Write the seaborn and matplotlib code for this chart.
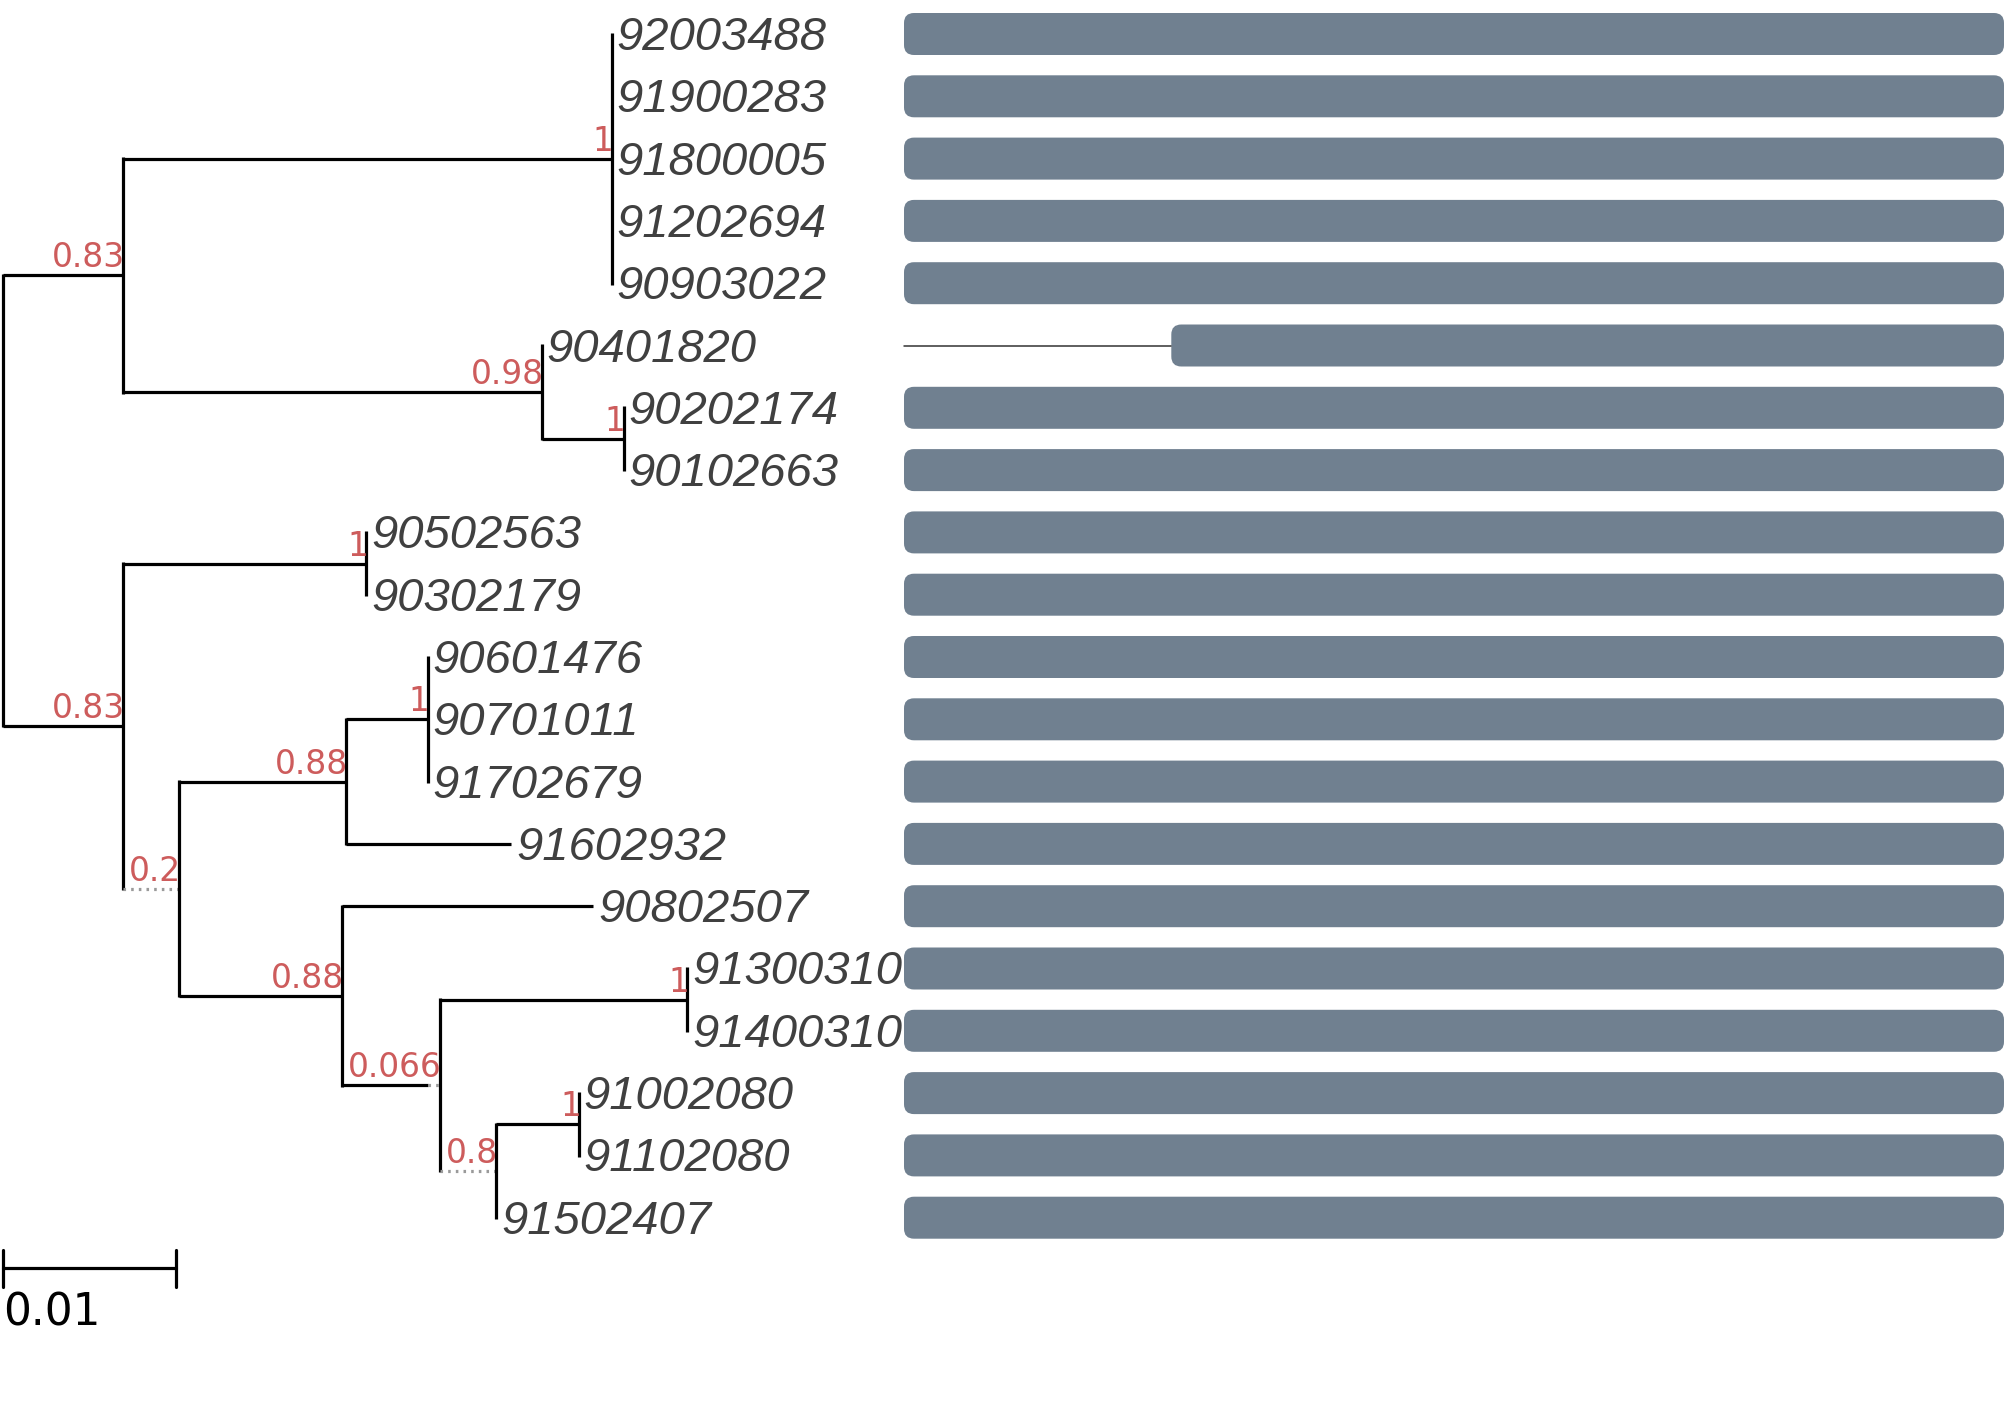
import matplotlib
matplotlib.use("Agg")
import matplotlib.pyplot as plt
from matplotlib.patches import FancyBboxPatch
import seaborn as sns

# ---------------- data ----------------
# tree nodes in preorder: name, parent, branch length, support (None for leaves/root)
node_name = ["root", "A", "A1", "92003488", "91900283", "91800005", "91202694", "90903022",
             "A2", "90401820", "A2c", "90202174", "90102663",
             "B", "B1", "90502563", "90302179",
             "B2", "C", "C1", "90601476", "90701011", "91702679", "91602932",
             "D", "90802507", "E", "E1", "91300310", "91400310",
             "F", "F1", "91002080", "91102080", "91502407"]
node_parent = [None, "root", "A", "A1", "A1", "A1", "A1", "A1",
               "A", "A2", "A2", "A2c", "A2c",
               "root", "B", "B1", "B1",
               "B", "B2", "C", "C1", "C1", "C1", "C",
               "B2", "D", "D", "E", "E1", "E1",
               "E", "F", "F1", "F1", "F"]
branch_length = [0.0, 0.00694, 0.02824, 0, 0, 0, 0, 0,
                 0.02419, 0, 0.00474, 0, 0,
                 0.00694, 0.01405, 0, 0,
                 0.0, 0.00965, 0.00471, 0, 0, 0, 0.00954,
                 0.00942, 0.01451, 0.00497, 0.01428, 0, 0,
                 0.0, 0.00477, 0, 0, 0]
support = [None, 0.83, 1, None, None, None, None, None,
           0.98, None, 1, None, None,
           0.83, 1, None, None,
           0.2, 0.88, 1, None, None, None, None,
           0.88, None, 0.066, 1, None, None,
           0.8, 1, None, None, None]

# aligned bars (sequence coverage, 0..1000) per leaf, in leaf order
leaf_order = ["92003488", "91900283", "91800005", "91202694", "90903022", "90401820",
              "90202174", "90102663", "90502563", "90302179", "90601476", "90701011",
              "91702679", "91602932", "90802507", "91300310", "91400310", "91002080",
              "91102080", "91502407"]
bar_start = [0, 0, 0, 0, 0, 243, 0, 0, 0, 0, 0, 0, 0, 0, 0, 0, 0, 0, 0, 0]
bar_end = [1000] * 20
seq_length = 1000
scale_value = 0.01

# ---------------- figure ----------------
sns.set_theme(style="white")
plt.rcParams["font.family"] = ["DejaVu Sans"]
W, H, DPI = 2007, 1424, 100
fig = plt.figure(figsize=(W / DPI, H / DPI), dpi=DPI)
ax = fig.add_axes([0, 0, 1, 1])
ax.set_xlim(0, W)
ax.set_ylim(H, 0)
ax.axis("off")
renderer = fig.canvas.get_renderer()

PX_PER_UNIT = 17300.0
X0 = 3.0
ROW0, ROW_STEP = 34.0, 62.3
LW = 2.3
SUP_FS = 23.7
SUP_COLOR = "#cd5c5c"

children = {n: [] for n in node_name}
for n, p in zip(node_name, node_parent):
    if p is not None:
        children[p].append(n)
bl = dict(zip(node_name, branch_length))
sup = dict(zip(node_name, support))

def fmt(v):
    return ("%g" % v)

# text widths of support labels
sup_width = {}
for n in node_name:
    if sup[n] is not None:
        t = ax.text(0, 0, fmt(sup[n]), fontsize=SUP_FS, family="DejaVu Sans")
        sup_width[n] = t.get_window_extent(renderer).width
        t.remove()

# x positions (with dotted extension when the support label is wider than the branch)
xpos, solid_end = {}, {}
for n, p in zip(node_name, node_parent):
    if p is None:
        xpos[n] = X0
        solid_end[n] = X0
        continue
    L = bl[n] * PX_PER_UNIT
    need = sup_width.get(n, 0) + 4 if children[n] else 0
    solid_end[n] = xpos[p] + L
    xpos[n] = xpos[p] + max(L, need)

# y positions
ypos = {}
for i, leaf in enumerate(leaf_order):
    ypos[leaf] = ROW0 + ROW_STEP * i

def get_y(n):
    if n in ypos:
        return ypos[n]
    ys = [get_y(c) for c in children[n]]
    ypos[n] = (ys[0] + ys[-1]) / 2
    return ypos[n]

get_y("root")

# draw branches
for n, p in zip(node_name, node_parent):
    y = ypos[n]
    if p is not None:
        ax.plot([xpos[p], solid_end[n]], [y, y], color="black", lw=LW,
                solid_capstyle="butt")
        if xpos[n] - solid_end[n] > 0.5:
            ax.plot([solid_end[n], xpos[n]], [y, y], color="#9a9a9a", lw=LW,
                    linestyle=(0, (0.8, 1.6)), dash_capstyle="butt")
    if children[n]:
        ys = [ypos[c] for c in children[n]]
        ax.plot([xpos[n], xpos[n]], [min(ys) - LW * 0.6, max(ys) + LW * 0.6],
                color="black", lw=LW, solid_capstyle="butt")
        if sup[n] is not None:
            ax.text(xpos[n] + 2, y - 1, fmt(sup[n]), fontsize=SUP_FS,
                    color=SUP_COLOR, ha="right", va="bottom", family="DejaVu Sans")
    else:
        ax.text(xpos[n] + 5, y + 4, n, fontsize=34, style="italic", color="#404040",
                ha="left", va="center", family=["Liberation Sans", "DejaVu Sans"])

# aligned bars
BX0, BX1 = 904.0, 2004.0
BAR_H = 42.0
for i, leaf in enumerate(leaf_order):
    y = ypos[leaf]
    xs = BX0 + (BX1 - BX0) * bar_start[i] / seq_length
    xe = BX0 + (BX1 - BX0) * bar_end[i] / seq_length
    if bar_start[i] > 0:
        ax.plot([BX0, xs], [y, y], color="#333333", lw=1.1)
    ax.add_patch(FancyBboxPatch((xs, y - BAR_H / 2), xe - xs, BAR_H,
                                boxstyle="round,pad=0,rounding_size=10",
                                facecolor="#708090", edgecolor="none"))

# scale bar
sb_y = 1268
sb_x1 = X0 + scale_value * PX_PER_UNIT
ax.plot([X0, sb_x1], [sb_y, sb_y], color="black", lw=LW)
ax.plot([X0, X0], [1250, 1287], color="black", lw=LW)
ax.plot([sb_x1, sb_x1], [1250, 1287], color="black", lw=LW)
ax.text(3, 1292, fmt(scale_value), fontsize=31.5, color="black", ha="left", va="top",
        family="DejaVu Sans")

fig.savefig("out.png", dpi=DPI)
